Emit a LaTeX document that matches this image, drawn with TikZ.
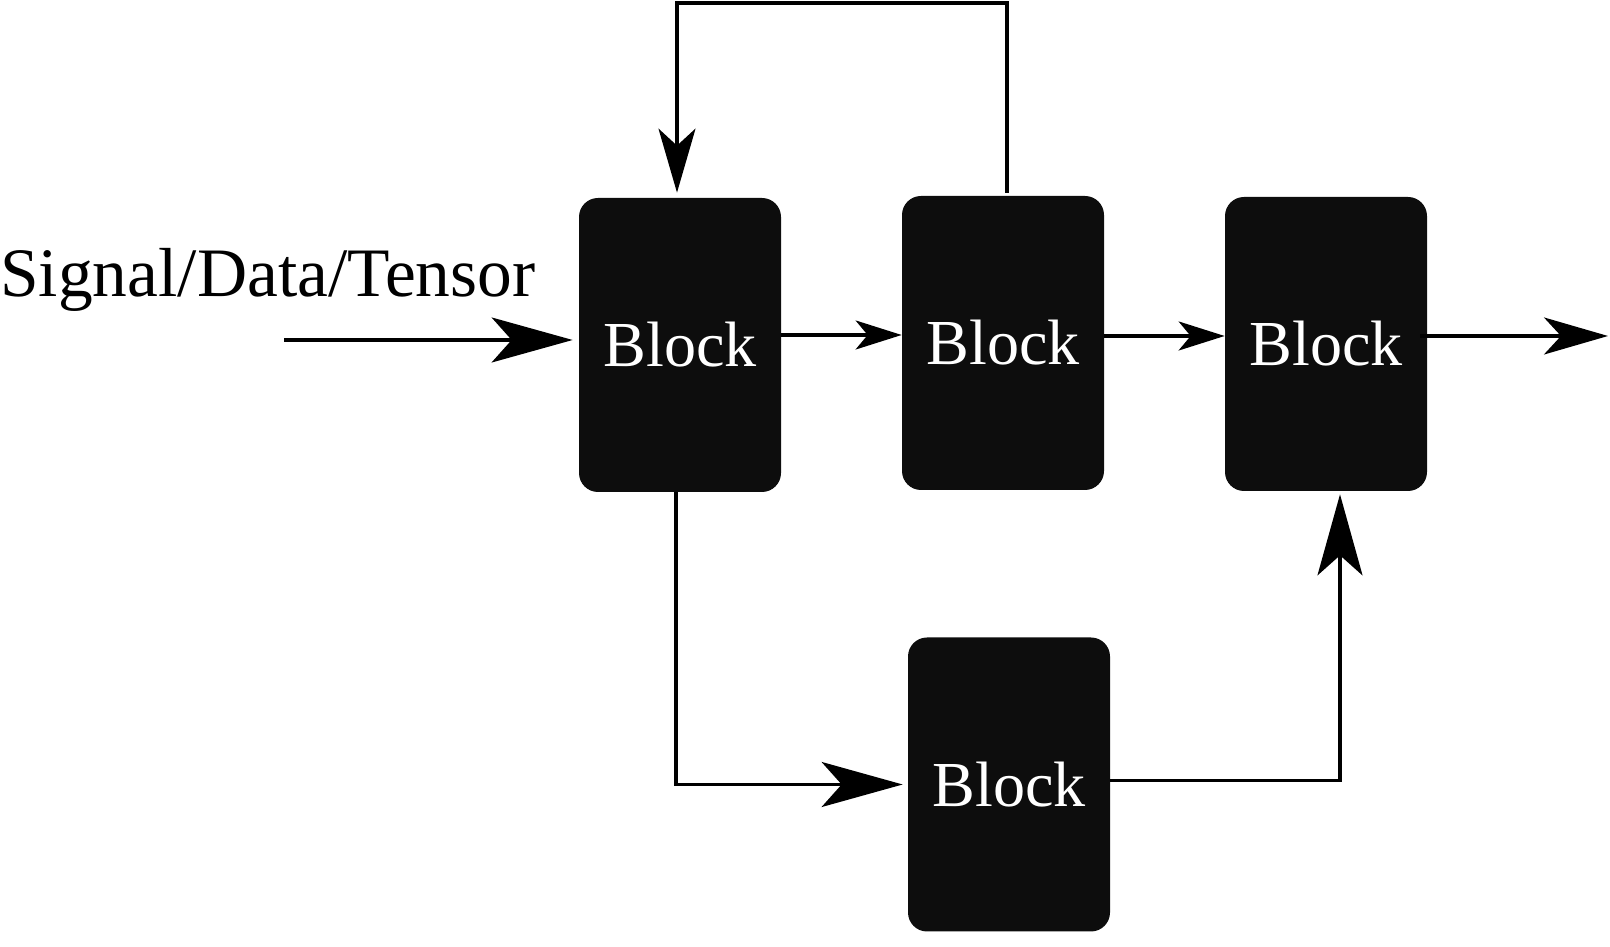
\documentclass[tikz,border=0pt]{standalone}
\usepackage{fontspec}
\setmainfont{Liberation Serif}
\usetikzlibrary{arrows.meta}

\begin{document}
\begin{tikzpicture}
  [block/.style={fill=black!95, rounded corners=3.8mm, minimum width=4.04cm,
     minimum height=5.88cm, inner sep=0pt, text=white,
     font=\fontsize{36.5}{40}\selectfont},
   conn/.style={line width=1.8pt},
   bigtip/.style={conn, -{Stealth[length=1.62cm, width=0.9cm, inset=0.4cm]}},
   midtip/.style={conn, -{Stealth[length=1.28cm, width=0.74cm, inset=0.34cm]}},
   smalltip/.style={conn, -{Stealth[length=0.92cm, width=0.58cm, inset=0.24cm]}}]
  \useasboundingbox (0,0) rectangle (32.2,18.94);

  % blocks
  \node[block] (b1) at (13.6,12.04) {Block};
  \node[block] (b2) at (20.06,12.08) {Block};
  \node[block] (b3) at (26.52,12.06) {Block};
  \node[block] (b4) at (20.18,3.25) {Block};

  \node[anchor=base west, inner sep=0pt, font=\fontsize{39.5}{44}\selectfont]
    (lbl) at (0,13.0) {Signal/Data/Tensor};

  \coordinate (in) at (5.68,12.14);
  \coordinate (out) at (32.16,12.22);
  \coordinate (top) at (13.54,18.88);

  % connectors
  \draw[bigtip, shorten >=1.2mm] (in) -- (in -| b1.west);
  \draw[smalltip] ([yshift=2mm]b1.east) -- ([yshift=2mm]b1.east -| b2.west);
  \draw[smalltip] ([yshift=1.4mm]b2.east) -- ([yshift=1.4mm]b2.east -| b3.west);
  \draw[midtip] ([xshift=-1.4mm]b3.east |- out) -- (out);
  \draw[conn, line cap=rect] ([xshift=0.8mm,yshift=0.8mm]b2.north) |- (top);
  \draw[midtip] (top) -- ([yshift=1mm]b1.north -| top);
  \draw[bigtip, shorten >=1mm] ([xshift=-0.8mm]b1.south) |- (b4.west);
  \draw[bigtip, shorten >=0.6mm] ([yshift=0.8mm]b4.east) -| ([xshift=2.8mm]b3.south);
\end{tikzpicture}
\end{document}
